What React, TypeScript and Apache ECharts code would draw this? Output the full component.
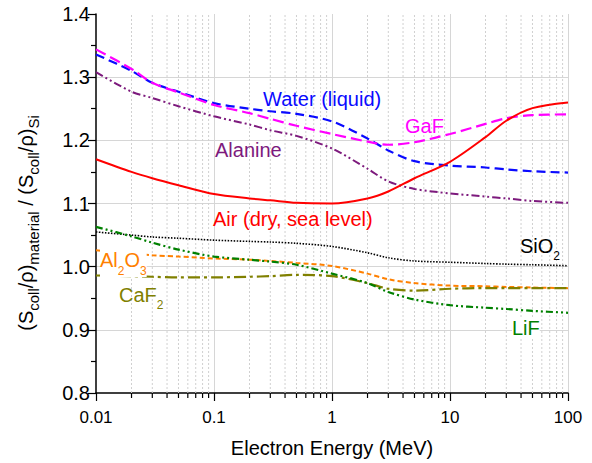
import React, { useEffect, useRef } from "react";
import * as echarts from "echarts";

// ---- data ----
const ENERGY = [0.01, 0.02, 0.03, 0.05, 0.1, 0.2, 0.3, 0.5, 1, 2, 3, 5, 10, 20, 30, 50, 100];
const WATER = [1.336, 1.310, 1.291, 1.277, 1.259, 1.250, 1.246, 1.242, 1.230, 1.203, 1.184, 1.167, 1.160, 1.157, 1.154, 1.151, 1.149];
const GAF = [1.344, 1.313, 1.291, 1.276, 1.256, 1.243, 1.234, 1.223, 1.210, 1.198, 1.193, 1.197, 1.210, 1.226, 1.235, 1.240, 1.241];
const ALANINE = [1.308, 1.277, 1.267, 1.254, 1.238, 1.225, 1.216, 1.207, 1.187, 1.155, 1.135, 1.123, 1.116, 1.111, 1.108, 1.104, 1.101];
const AIR = [1.170, 1.150, 1.140, 1.129, 1.115, 1.108, 1.105, 1.101, 1.100, 1.108, 1.119, 1.140, 1.166, 1.205, 1.231, 1.251, 1.260];
const SIO2 = [1.055, 1.050, 1.047, 1.045, 1.042, 1.040, 1.039, 1.037, 1.032, 1.022, 1.014, 1.009, 1.007, 1.005, 1.004, 1.003, 1.0015];
const AL2O3 = [1.026, 1.021, 1.018, 1.016, 1.013, 1.011, 1.009, 1.006, 1.001, 0.989, 0.980, 0.974, 0.970, 0.969, 0.968, 0.967, 0.966];
const LIF = [1.063, 1.048, 1.038, 1.027, 1.016, 1.011, 1.008, 1.003, 0.989, 0.974, 0.960, 0.948, 0.939, 0.935, 0.933, 0.930, 0.927];
const CAF2 = [0.986, 0.985, 0.984, 0.983, 0.983, 0.984, 0.985, 0.987, 0.985, 0.974, 0.965, 0.962, 0.965, 0.966, 0.966, 0.966, 0.966];

const X_TICK_LABELS = ["0.01", "0.1", "1", "10", "100"];
const X_DECADES = [0.01, 0.1, 1, 10];
const X_MINOR_MULT = [2, 3, 4, 5, 6, 7, 8, 9];

const FONT = '"Liberation Sans", Arial, sans-serif';

export default function App() {
  const ref = useRef<HTMLDivElement>(null);

  useEffect(() => {
    if (!ref.current) return;
    const chart = echarts.init(ref.current, undefined, { renderer: "svg" });

    const mk = (arr: number[]) => ENERGY.map((e, i) => [e, arr[i]]);
    const line = (name: string, arr: number[], color: string, type: any, width = 2) => ({
      name,
      type: "line",
      data: mk(arr),
      showSymbol: false,
      smooth: 0.3,
      z: 3,
      lineStyle: { color, width, type, cap: "butt" },
      silent: true,
    });

    const minor: number[][] = [];
    X_DECADES.forEach((d) => X_MINOR_MULT.forEach((m) => minor.push([+(d * m).toPrecision(3), 0.8])));

    const sub = (size: number, pad: number) => ({ fontSize: size, fontFamily: FONT, padding: [pad, 0, 0, 0] });
    const main = (size: number) => ({ fontSize: size, fontFamily: FONT });

    const label = (x: number, y: number, text: string, fill: string, rich?: any, extra?: any) => ({
      type: "text",
      x,
      y,
      z: 10,
      style: Object.assign(
        { text, fill, fontSize: 20, fontFamily: FONT, align: "left", verticalAlign: "middle", rich },
        extra || {}
      ),
    });

    chart.setOption({
      animation: false,
      backgroundColor: "#fff",
      grid: { left: 96, top: 14, right: 24, bottom: 66, containLabel: false },
      xAxis: {
        type: "log",
        logBase: 10,
        min: 0.01,
        max: 100,
        name: "Electron Energy (MeV)",
        nameLocation: "middle",
        nameGap: 45,
        nameTextStyle: { fontSize: 20, color: "#000", fontFamily: FONT },
        axisLine: { show: true, lineStyle: { color: "#000", width: 1.5 } },
        axisTick: { show: true, length: 8, lineStyle: { color: "#000", width: 1.2 } },
        axisLabel: {
          margin: 16,
          fontSize: 17,
          color: "#000",
          fontFamily: FONT,
          formatter: (v: number) => X_TICK_LABELS[Math.round(Math.log10(v)) + 2] ?? "",
        },
        splitLine: { show: true, showMinLine: false, lineStyle: { color: "#d6d6d6", width: 1 } },
        minorTick: { show: false },
      },
      yAxis: {
        type: "value",
        min: 0.8,
        max: 1.4,
        interval: 0.1,
        axisLine: { show: true, lineStyle: { color: "#000", width: 1.5 } },
        axisTick: { show: true, length: 8, lineStyle: { color: "#000", width: 1.2 } },
        minorTick: { show: true, splitNumber: 2, length: 5, lineStyle: { color: "#000", width: 1.2 } },
        axisLabel: {
          margin: 6,
          fontSize: 20,
          color: "#000",
          fontFamily: FONT,
          formatter: (v: number) => v.toFixed(1),
        },
        splitLine: { show: true, showMinLine: false, showMaxLine: false, lineStyle: { color: "#d6d6d6", width: 1 } },
      },
      series: [
        {
          type: "custom",
          name: "minor",
          clip: false,
          z: 1,
          silent: true,
          data: minor,
          renderItem: (params: any, api: any) => {
            const v = api.value(0);
            const p0 = api.coord([v, 0.8]);
            const p1 = api.coord([v, 1.4]);
            return {
              type: "group",
              children: [
                {
                  type: "line",
                  shape: { x1: p0[0], y1: p0[1], x2: p0[0], y2: p1[1] },
                  style: { stroke: "#d0d0d0", lineWidth: 1, lineDash: [2, 2] },
                },
                {
                  type: "line",
                  shape: { x1: p0[0], y1: p0[1], x2: p0[0], y2: p0[1] + 5 },
                  style: { stroke: "#000", lineWidth: 1.2 },
                },
              ],
            };
          },
        },
        line("Water (liquid)", WATER, "#0a0aff", [9, 5], 2.2),
        line("GaF", GAF, "#ff00ff", [11, 5], 2.2),
        line("Alanine", ALANINE, "#7d1a7d", [8, 3, 2, 3, 2, 3], 2),
        line("Air (dry, sea level)", AIR, "#ff0000", "solid", 2),
        line("SiO2", SIO2, "#000000", [1.5, 1.5], 1.6),
        line("Al2O3", AL2O3, "#ff8000", [5, 3], 2),
        line("CaF2", CAF2, "#808000", [12, 4, 3, 4], 2.2),
        line("LiF", LIF, "#008000", [7, 3, 2, 3, 2, 3], 2.2),
      ],
      graphic: [
        label(263, 98.5, "Water (liquid)", "#0a0aff"),
        label(405, 126, "GaF", "#ff00ff"),
        label(215, 150, "Alanine", "#7d1a7d"),
        label(213, 219, "Air (dry, sea level)", "#ff0000"),
        label(520, 246, "{m|SiO}{s|2}", "#000", { m: main(20), s: sub(12, 20) }),
        label(100, 260, "{m|Al}{s|2}{m|O}{s|3}", "#ff8000", { m: main(20), s: sub(12, 22) }, { backgroundColor: "#fff" }),
        label(119, 295, "{m|CaF}{s|2}", "#808000", { m: main(20), s: sub(12, 19) }),
        label(512, 328, "LiF", "#008000", undefined, { backgroundColor: "#fff" }),
        {
          type: "text",
          x: 26,
          y: 223,
          rotation: Math.PI / 2,
          z: 10,
          style: {
            text: "{m|(S}{s|coll}{m|/ρ)}{s|material}{m| / (S}{s|coll}{m|/ρ)}{s|Si}",
            fill: "#000",
            align: "center",
            verticalAlign: "middle",
            fontSize: 20,
            fontFamily: FONT,
            rich: { m: main(20), s: sub(15, 15) },
          },
        },
      ],
    });

    return () => chart.dispose();
  }, []);

  return (
    <div
      ref={ref}
      style={{ position: "fixed", left: 0, top: 0, width: 592, height: 463, background: "#fff" }}
    />
  );
}
